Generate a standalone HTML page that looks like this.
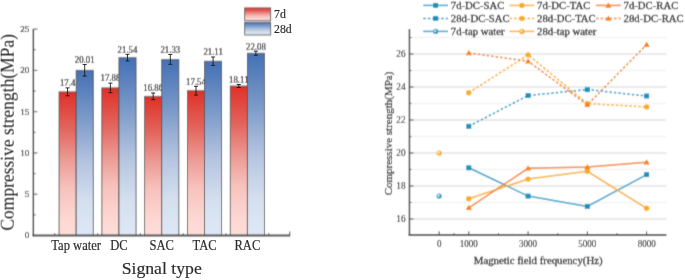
<!DOCTYPE html>
<html><head><meta charset="utf-8"><style>
html,body{margin:0;padding:0;background:#fff;}
svg{display:block;font-family:"Liberation Serif", serif;}
</style></head><body>
<svg xmlns="http://www.w3.org/2000/svg" width="685" height="280" viewBox="0 0 685 280">
<defs><filter id="bl" filterUnits="userSpaceOnUse" x="-10" y="-10" width="705" height="300"><feConvolveMatrix order="3" kernelMatrix="24 152 24 72 456 72 24 152 24" divisor="1000" edgeMode="duplicate" preserveAlpha="true"/></filter>
<filter id="nb" filterUnits="userSpaceOnUse" x="-10" y="-10" width="705" height="300"><feOffset dx="0" dy="0"/></filter></defs>
<rect width="685" height="280" fill="#fff"/>
<g filter="url(#bl)">
<rect x="-10" y="-10" width="705" height="300" fill="#fff"/>
<defs>
<linearGradient id="gr" x1="0" y1="0" x2="0" y2="1"><stop offset="0" stop-color="#de2f27"/><stop offset="0.05" stop-color="#e03a32"/><stop offset="0.26" stop-color="#e2665e"/><stop offset="0.47" stop-color="#ec9a94"/><stop offset="0.67" stop-color="#f7c2bd"/><stop offset="0.89" stop-color="#fdd8d3"/><stop offset="1" stop-color="#fddcd8"/></linearGradient>
<linearGradient id="gb" x1="0" y1="0" x2="0" y2="1"><stop offset="0" stop-color="#4571b6"/><stop offset="0.064" stop-color="#5079b9"/><stop offset="0.29" stop-color="#7b9ac8"/><stop offset="0.55" stop-color="#b3c3df"/><stop offset="0.80" stop-color="#d5e0ef"/><stop offset="1" stop-color="#dee7f5"/></linearGradient>
<radialGradient id="sa" cx="0.4" cy="0.42" r="0.62"><stop offset="0" stop-color="#fffaf0"/><stop offset="0.3" stop-color="#fcd27a"/><stop offset="0.6" stop-color="#f9ad1a"/><stop offset="1" stop-color="#f4a200"/></radialGradient>
<radialGradient id="st" cx="0.4" cy="0.42" r="0.62"><stop offset="0" stop-color="#eef8fc"/><stop offset="0.3" stop-color="#8fcde6"/><stop offset="0.6" stop-color="#2a9cc6"/><stop offset="1" stop-color="#1c8fbb"/></radialGradient>
</defs>
<rect x="59.05" y="91.85" width="17.10" height="143.65" fill="url(#gr)" stroke="#4a4a4a" stroke-width="0.8"/>
<text transform="translate(67.60 86.28) scale(1 1.08)" font-size="8.8" text-anchor="middle" fill="#2a2a2a" stroke="#2a2a2a" stroke-width="0.22">17.4</text>
<rect x="76.15" y="70.30" width="17.10" height="165.20" fill="url(#gb)" stroke="#4a4a4a" stroke-width="0.8"/>
<text transform="translate(84.70 62.92) scale(1 1.08)" font-size="8.8" text-anchor="middle" fill="#2a2a2a" stroke="#2a2a2a" stroke-width="0.22">20.01</text>
<rect x="101.85" y="87.88" width="17.10" height="147.62" fill="url(#gr)" stroke="#4a4a4a" stroke-width="0.8"/>
<text transform="translate(110.40 81.49) scale(1 1.08)" font-size="8.8" text-anchor="middle" fill="#2a2a2a" stroke="#2a2a2a" stroke-width="0.22">17.88</text>
<rect x="118.95" y="57.67" width="17.10" height="177.83" fill="url(#gb)" stroke="#4a4a4a" stroke-width="0.8"/>
<text transform="translate(127.50 52.76) scale(1 1.08)" font-size="8.8" text-anchor="middle" fill="#2a2a2a" stroke="#2a2a2a" stroke-width="0.22">21.54</text>
<rect x="144.65" y="96.30" width="17.10" height="139.20" fill="url(#gr)" stroke="#4a4a4a" stroke-width="0.8"/>
<text transform="translate(153.20 91.40) scale(1 1.08)" font-size="8.8" text-anchor="middle" fill="#2a2a2a" stroke="#2a2a2a" stroke-width="0.22">16.86</text>
<rect x="161.75" y="59.40" width="17.10" height="176.10" fill="url(#gb)" stroke="#4a4a4a" stroke-width="0.8"/>
<text transform="translate(170.30 52.85) scale(1 1.08)" font-size="8.8" text-anchor="middle" fill="#2a2a2a" stroke="#2a2a2a" stroke-width="0.22">21.33</text>
<rect x="187.45" y="90.69" width="17.10" height="144.81" fill="url(#gr)" stroke="#4a4a4a" stroke-width="0.8"/>
<text transform="translate(196.00 84.71) scale(1 1.08)" font-size="8.8" text-anchor="middle" fill="#2a2a2a" stroke="#2a2a2a" stroke-width="0.22">17.54</text>
<rect x="204.55" y="61.22" width="17.10" height="174.28" fill="url(#gb)" stroke="#4a4a4a" stroke-width="0.8"/>
<text transform="translate(213.10 55.41) scale(1 1.08)" font-size="8.8" text-anchor="middle" fill="#2a2a2a" stroke="#2a2a2a" stroke-width="0.22">21.11</text>
<rect x="230.25" y="85.98" width="17.10" height="149.52" fill="url(#gr)" stroke="#4a4a4a" stroke-width="0.8"/>
<text transform="translate(238.80 82.90) scale(1 1.08)" font-size="8.8" text-anchor="middle" fill="#2a2a2a" stroke="#2a2a2a" stroke-width="0.22">18.11</text>
<rect x="247.35" y="53.21" width="17.10" height="182.29" fill="url(#gb)" stroke="#4a4a4a" stroke-width="0.8"/>
<text transform="translate(255.90 49.54) scale(1 1.08)" font-size="8.8" text-anchor="middle" fill="#2a2a2a" stroke="#2a2a2a" stroke-width="0.22">22.08</text>
<path d="M33.35 29.0V236.25" stroke="#474747" stroke-width="1.5" fill="none"/>
<path d="M32.6 235.5H290.15" stroke="#474747" stroke-width="1.8" fill="none"/>
<path d="M33.35 235.50h4" stroke="#474747" stroke-width="1"/>
<text transform="translate(29.30 238.40) scale(1 1.0)" font-size="9.1" text-anchor="end" fill="#2a2a2a" stroke="#2a2a2a" stroke-width="0.2">0</text>
<path d="M33.35 194.22h4" stroke="#474747" stroke-width="1"/>
<text transform="translate(29.30 197.12) scale(1 1.0)" font-size="9.1" text-anchor="end" fill="#2a2a2a" stroke="#2a2a2a" stroke-width="0.2">5</text>
<path d="M33.35 152.94h4" stroke="#474747" stroke-width="1"/>
<text transform="translate(29.30 155.84) scale(1 1.0)" font-size="9.1" text-anchor="end" fill="#2a2a2a" stroke="#2a2a2a" stroke-width="0.2">10</text>
<path d="M33.35 111.66h4" stroke="#474747" stroke-width="1"/>
<text transform="translate(29.30 114.56) scale(1 1.0)" font-size="9.1" text-anchor="end" fill="#2a2a2a" stroke="#2a2a2a" stroke-width="0.2">15</text>
<path d="M33.35 70.38h4" stroke="#474747" stroke-width="1"/>
<text transform="translate(29.30 73.28) scale(1 1.0)" font-size="9.1" text-anchor="end" fill="#2a2a2a" stroke="#2a2a2a" stroke-width="0.2">20</text>
<path d="M33.35 29.10h4" stroke="#474747" stroke-width="1"/>
<text transform="translate(29.30 32.00) scale(1 1.0)" font-size="9.1" text-anchor="end" fill="#2a2a2a" stroke="#2a2a2a" stroke-width="0.2">25</text>
<path d="M33.35 214.86h2.2" stroke="#474747" stroke-width="1"/>
<path d="M33.35 173.58h2.2" stroke="#474747" stroke-width="1"/>
<path d="M33.35 132.30h2.2" stroke="#474747" stroke-width="1"/>
<path d="M33.35 91.02h2.2" stroke="#474747" stroke-width="1"/>
<path d="M33.35 49.74h2.2" stroke="#474747" stroke-width="1"/>
<path d="M54.75 235.5v-2.2" stroke="#474747" stroke-width="1"/>
<path d="M97.55 235.5v-2.2" stroke="#474747" stroke-width="1"/>
<path d="M140.35 235.5v-2.2" stroke="#474747" stroke-width="1"/>
<path d="M183.15 235.5v-2.2" stroke="#474747" stroke-width="1"/>
<path d="M225.95 235.5v-2.2" stroke="#474747" stroke-width="1"/>
<path d="M268.75 235.5v-2.2" stroke="#474747" stroke-width="1"/>
<path d="M289.75 235.5v-4" stroke="#474747" stroke-width="1"/>
<rect x="244.7" y="7.9" width="26" height="12.8" fill="url(#gr)" stroke="#4a4a4a" stroke-width="0.8"/>
<rect x="244.7" y="22.2" width="26" height="12.8" fill="url(#gb)" stroke="#4a4a4a" stroke-width="0.8"/>
<path d="M409.45 219.00H666.4" stroke="#e3e3e3" stroke-width="1.4"/>
<path d="M409.45 186.00H666.4" stroke="#e3e3e3" stroke-width="1.4"/>
<path d="M409.45 153.00H666.4" stroke="#e3e3e3" stroke-width="1.4"/>
<path d="M409.45 120.00H666.4" stroke="#e3e3e3" stroke-width="1.4"/>
<path d="M409.45 87.00H666.4" stroke="#e3e3e3" stroke-width="1.4"/>
<path d="M409.45 54.00H666.4" stroke="#e3e3e3" stroke-width="1.4"/>
<path d="M409.45 202.50H666.4" stroke="#f4f4f4" stroke-width="1.4"/>
<path d="M409.45 169.50H666.4" stroke="#f4f4f4" stroke-width="1.4"/>
<path d="M409.45 136.50H666.4" stroke="#f4f4f4" stroke-width="1.4"/>
<path d="M409.45 103.50H666.4" stroke="#f4f4f4" stroke-width="1.4"/>
<path d="M409.45 70.50H666.4" stroke="#f4f4f4" stroke-width="1.4"/>
<path d="M409.45 37.50H666.4" stroke="#f4f4f4" stroke-width="1.4"/>
<polyline points="468.79,167.80 528.07,196.10 587.35,206.40 646.63,174.60" fill="none" stroke="#2aa0c6" stroke-width="1.5"/>
<polyline points="468.79,198.80 528.07,179.10 587.35,171.30 646.63,208.30" fill="none" stroke="#f9ae22" stroke-width="1.5"/>
<polyline points="468.79,207.80 528.07,168.30 587.35,167.00 646.63,162.30" fill="none" stroke="#f6832a" stroke-width="1.5"/>
<polyline points="468.79,126.30 528.07,95.50 587.35,89.60 646.63,96.00" fill="none" stroke="#2aa0c6" stroke-width="1.5" stroke-dasharray="2.6 1.9"/>
<polyline points="468.79,92.70 528.07,54.90 587.35,103.60 646.63,106.90" fill="none" stroke="#f9ae22" stroke-width="1.5" stroke-dasharray="2.6 1.9"/>
<polyline points="468.79,52.90 528.07,61.30 587.35,104.80 646.63,44.60" fill="none" stroke="#f6832a" stroke-width="1.5" stroke-dasharray="2.6 1.9"/>
<rect x="466.29" y="165.30" width="5" height="5" fill="#1893bd"/>
<rect x="525.57" y="193.60" width="5" height="5" fill="#1893bd"/>
<rect x="584.85" y="203.90" width="5" height="5" fill="#1893bd"/>
<rect x="644.13" y="172.10" width="5" height="5" fill="#1893bd"/>
<circle cx="468.79" cy="198.80" r="2.7" fill="#f9ad1a"/>
<circle cx="528.07" cy="179.10" r="2.7" fill="#f9ad1a"/>
<circle cx="587.35" cy="171.30" r="2.7" fill="#f9ad1a"/>
<circle cx="646.63" cy="208.30" r="2.7" fill="#f9ad1a"/>
<path d="M468.79 204.80L471.89 210.10H465.69Z" fill="#fa7f14"/>
<path d="M528.07 165.30L531.17 170.60H524.97Z" fill="#fa7f14"/>
<path d="M587.35 164.00L590.45 169.30H584.25Z" fill="#fa7f14"/>
<path d="M646.63 159.30L649.73 164.60H643.53Z" fill="#fa7f14"/>
<rect x="466.29" y="123.80" width="5" height="5" fill="#1893bd"/>
<rect x="525.57" y="93.00" width="5" height="5" fill="#1893bd"/>
<rect x="584.85" y="87.10" width="5" height="5" fill="#1893bd"/>
<rect x="644.13" y="93.50" width="5" height="5" fill="#1893bd"/>
<circle cx="468.79" cy="92.70" r="2.7" fill="#f9ad1a"/>
<circle cx="528.07" cy="54.90" r="2.7" fill="#f9ad1a"/>
<circle cx="587.35" cy="103.60" r="2.7" fill="#f9ad1a"/>
<circle cx="646.63" cy="106.90" r="2.7" fill="#f9ad1a"/>
<path d="M468.79 49.90L471.89 55.20H465.69Z" fill="#fa7f14"/>
<path d="M528.07 58.30L531.17 63.60H524.97Z" fill="#fa7f14"/>
<path d="M587.35 101.80L590.45 107.10H584.25Z" fill="#fa7f14"/>
<path d="M646.63 41.60L649.73 46.90H643.53Z" fill="#fa7f14"/>
<circle cx="439.10" cy="153.00" r="2.6" fill="url(#sa)"/>
<circle cx="439.10" cy="196.00" r="2.6" fill="url(#st)"/>
<path d="M409.45 29.0V235.8" stroke="#555555" stroke-width="1.6" fill="none"/>
<path d="M408.65 235.0H666.4" stroke="#555555" stroke-width="1.9" fill="none"/>
<path d="M409.45 219.00h4" stroke="#474747" stroke-width="1"/>
<text transform="translate(405.60 222.20) scale(1 1.07)" font-size="9.3" text-anchor="end" fill="#2a2a2a" stroke="#2a2a2a" stroke-width="0.1">16</text>
<path d="M409.45 186.00h4" stroke="#474747" stroke-width="1"/>
<text transform="translate(405.60 189.20) scale(1 1.07)" font-size="9.3" text-anchor="end" fill="#2a2a2a" stroke="#2a2a2a" stroke-width="0.1">18</text>
<path d="M409.45 153.00h4" stroke="#474747" stroke-width="1"/>
<text transform="translate(405.60 156.20) scale(1 1.07)" font-size="9.3" text-anchor="end" fill="#2a2a2a" stroke="#2a2a2a" stroke-width="0.1">20</text>
<path d="M409.45 120.00h4" stroke="#474747" stroke-width="1"/>
<text transform="translate(405.60 123.20) scale(1 1.07)" font-size="9.3" text-anchor="end" fill="#2a2a2a" stroke="#2a2a2a" stroke-width="0.1">22</text>
<path d="M409.45 87.00h4" stroke="#474747" stroke-width="1"/>
<text transform="translate(405.60 90.20) scale(1 1.07)" font-size="9.3" text-anchor="end" fill="#2a2a2a" stroke="#2a2a2a" stroke-width="0.1">24</text>
<path d="M409.45 54.00h4" stroke="#474747" stroke-width="1"/>
<text transform="translate(405.60 57.20) scale(1 1.07)" font-size="9.3" text-anchor="end" fill="#2a2a2a" stroke="#2a2a2a" stroke-width="0.1">26</text>
<path d="M409.45 202.50h2" stroke="#474747" stroke-width="1"/>
<path d="M409.45 169.50h2" stroke="#474747" stroke-width="1"/>
<path d="M409.45 136.50h2" stroke="#474747" stroke-width="1"/>
<path d="M409.45 103.50h2" stroke="#474747" stroke-width="1"/>
<path d="M409.45 70.50h2" stroke="#474747" stroke-width="1"/>
<path d="M409.45 37.50h2" stroke="#474747" stroke-width="1"/>
<path d="M439.15 235.0v-3.6" stroke="#474747" stroke-width="1"/>
<text transform="translate(439.15 246.60) scale(1 1.07)" font-size="9.0" text-anchor="middle" fill="#2a2a2a" stroke="#2a2a2a" stroke-width="0.1">0</text>
<path d="M468.79 235.0v-3.6" stroke="#474747" stroke-width="1"/>
<text transform="translate(468.79 246.60) scale(1 1.07)" font-size="9.0" text-anchor="middle" fill="#2a2a2a" stroke="#2a2a2a" stroke-width="0.1">1000</text>
<path d="M528.07 235.0v-3.6" stroke="#474747" stroke-width="1"/>
<text transform="translate(528.07 246.60) scale(1 1.07)" font-size="9.0" text-anchor="middle" fill="#2a2a2a" stroke="#2a2a2a" stroke-width="0.1">3000</text>
<path d="M587.35 235.0v-3.6" stroke="#474747" stroke-width="1"/>
<text transform="translate(587.35 246.60) scale(1 1.07)" font-size="9.0" text-anchor="middle" fill="#2a2a2a" stroke="#2a2a2a" stroke-width="0.1">5000</text>
<path d="M646.63 235.0v-3.6" stroke="#474747" stroke-width="1"/>
<text transform="translate(646.63 246.60) scale(1 1.07)" font-size="9.0" text-anchor="middle" fill="#2a2a2a" stroke="#2a2a2a" stroke-width="0.1">8000</text>
<path d="M453.97 235.0v-1.8" stroke="#474747" stroke-width="1"/>
<path d="M498.43 235.0v-1.8" stroke="#474747" stroke-width="1"/>
<path d="M557.71 235.0v-1.8" stroke="#474747" stroke-width="1"/>
<path d="M616.99 235.0v-1.8" stroke="#474747" stroke-width="1"/>
<text transform="translate(538.20 263.70) scale(1 1.02)" font-size="10.8" text-anchor="middle" fill="#2a2a2a" stroke="#2a2a2a" stroke-width="0.3">Magnetic field frequency(Hz)</text>
<text transform="translate(392.20 133.50) rotate(-90) scale(1 1.03)" font-size="11" text-anchor="middle" fill="#2a2a2a" stroke="#2a2a2a" stroke-width="0.25">Compressive strength(MPa)</text>
<path d="M423.2 5.4h24.8" stroke="#2aa0c6" stroke-width="1.5"/>
<rect x="433.10" y="2.90" width="5" height="5" fill="#1893bd"/>
<text transform="translate(450.80 9.10) scale(1 1.05)" font-size="10.7" fill="#2a2a2a" stroke="#2a2a2a" stroke-width="0.3">7d-DC-SAC</text>
<path d="M509.5 5.4h24.8" stroke="#f9ae22" stroke-width="1.5"/>
<circle cx="521.90" cy="5.40" r="2.7" fill="#f9ad1a"/>
<text transform="translate(537.10 9.10) scale(1 1.05)" font-size="10.7" fill="#2a2a2a" stroke="#2a2a2a" stroke-width="0.3">7d-DC-TAC</text>
<path d="M596.0 5.4h24.8" stroke="#f6832a" stroke-width="1.5"/>
<path d="M608.40 2.40L611.50 7.70H605.30Z" fill="#fa7f14"/>
<text transform="translate(623.60 9.10) scale(1 1.05)" font-size="10.7" fill="#2a2a2a" stroke="#2a2a2a" stroke-width="0.3">7d-DC-RAC</text>
<path d="M423.2 18.4h24.8" stroke="#2aa0c6" stroke-width="1.5" stroke-dasharray="2.6 1.9"/>
<rect x="433.10" y="15.90" width="5" height="5" fill="#1893bd"/>
<text transform="translate(450.80 22.10) scale(1 1.05)" font-size="10.7" fill="#2a2a2a" stroke="#2a2a2a" stroke-width="0.3">28d-DC-SAC</text>
<path d="M509.5 18.4h24.8" stroke="#f9ae22" stroke-width="1.5" stroke-dasharray="2.6 1.9"/>
<circle cx="521.90" cy="18.40" r="2.7" fill="#f9ad1a"/>
<text transform="translate(537.10 22.10) scale(1 1.05)" font-size="10.7" fill="#2a2a2a" stroke="#2a2a2a" stroke-width="0.3">28d-DC-TAC</text>
<path d="M596.0 18.4h24.8" stroke="#f6832a" stroke-width="1.5" stroke-dasharray="2.6 1.9"/>
<path d="M608.40 15.40L611.50 20.70H605.30Z" fill="#fa7f14"/>
<text transform="translate(623.60 22.10) scale(1 1.05)" font-size="10.7" fill="#2a2a2a" stroke="#2a2a2a" stroke-width="0.3">28d-DC-RAC</text>
<path d="M423.2 31.4h24.8" stroke="#2aa0c6" stroke-width="1.5"/>
<circle cx="435.60" cy="31.40" r="2.6" fill="url(#st)"/>
<text transform="translate(450.80 35.10) scale(1 1.05)" font-size="10.7" fill="#2a2a2a" stroke="#2a2a2a" stroke-width="0.3">7d-tap water</text>
<path d="M509.5 31.4h24.8" stroke="#f9ae22" stroke-width="1.5"/>
<circle cx="521.90" cy="31.40" r="2.6" fill="url(#sa)"/>
<text transform="translate(537.10 35.10) scale(1 1.05)" font-size="10.7" fill="#2a2a2a" stroke="#2a2a2a" stroke-width="0.3">28d-tap water</text>
</g>
<g filter="url(#nb)">
<path d="M67.60 87.88V95.81M65.60 87.88h4M65.60 95.81h4" stroke="#1a1a1a" stroke-width="0.9" fill="none"/>
<path d="M84.70 64.52V76.08M82.70 64.52h4M82.70 76.08h4" stroke="#1a1a1a" stroke-width="0.9" fill="none"/>
<path d="M110.40 83.09V92.67M108.40 83.09h4M108.40 92.67h4" stroke="#1a1a1a" stroke-width="0.9" fill="none"/>
<path d="M127.50 54.36V60.97M125.50 54.36h4M125.50 60.97h4" stroke="#1a1a1a" stroke-width="0.9" fill="none"/>
<path d="M153.20 93.00V99.61M151.20 93.00h4M151.20 99.61h4" stroke="#1a1a1a" stroke-width="0.9" fill="none"/>
<path d="M170.30 54.45V64.35M168.30 54.45h4M168.30 64.35h4" stroke="#1a1a1a" stroke-width="0.9" fill="none"/>
<path d="M196.00 86.31V95.07M194.00 86.31h4M194.00 95.07h4" stroke="#1a1a1a" stroke-width="0.9" fill="none"/>
<path d="M213.10 57.01V65.43M211.10 57.01h4M211.10 65.43h4" stroke="#1a1a1a" stroke-width="0.9" fill="none"/>
<path d="M238.80 84.50V87.47M236.80 84.50h4M236.80 87.47h4" stroke="#1a1a1a" stroke-width="0.9" fill="none"/>
<path d="M255.90 51.14V55.27M253.90 51.14h4M253.90 55.27h4" stroke="#1a1a1a" stroke-width="0.9" fill="none"/>
<text transform="translate(76.15 250.40) scale(1 1.12)" font-size="12.6" text-anchor="middle" fill="#2a2a2a" stroke="#2a2a2a" stroke-width="0.16">Tap water</text>
<text transform="translate(118.95 250.40) scale(1 1.12)" font-size="12.6" text-anchor="middle" fill="#2a2a2a" stroke="#2a2a2a" stroke-width="0.16">DC</text>
<text transform="translate(161.75 250.40) scale(1 1.12)" font-size="12.6" text-anchor="middle" fill="#2a2a2a" stroke="#2a2a2a" stroke-width="0.16">SAC</text>
<text transform="translate(204.55 250.40) scale(1 1.12)" font-size="12.6" text-anchor="middle" fill="#2a2a2a" stroke="#2a2a2a" stroke-width="0.16">TAC</text>
<text transform="translate(247.35 250.40) scale(1 1.12)" font-size="12.6" text-anchor="middle" fill="#2a2a2a" stroke="#2a2a2a" stroke-width="0.16">RAC</text>
<text transform="translate(161.70 274.30) scale(1 1.0)" font-size="17.7" text-anchor="middle" fill="#2a2a2a" stroke="#2a2a2a" stroke-width="0.16">Signal type</text>
<text transform="translate(13.80 132.40) rotate(-90) scale(1 1.07)" font-size="17.5" text-anchor="middle" fill="#2a2a2a" stroke="#2a2a2a" stroke-width="0.05">Compressive strength(MPa)</text>
<text transform="translate(274.00 18.00) scale(1 1.07)" font-size="11.8" fill="#2a2a2a" stroke="#2a2a2a" stroke-width="0.16">7d</text>
<text transform="translate(274.00 32.60) scale(1 1.07)" font-size="11.8" fill="#2a2a2a" stroke="#2a2a2a" stroke-width="0.16">28d</text>
</g>
</svg>
</body></html>
